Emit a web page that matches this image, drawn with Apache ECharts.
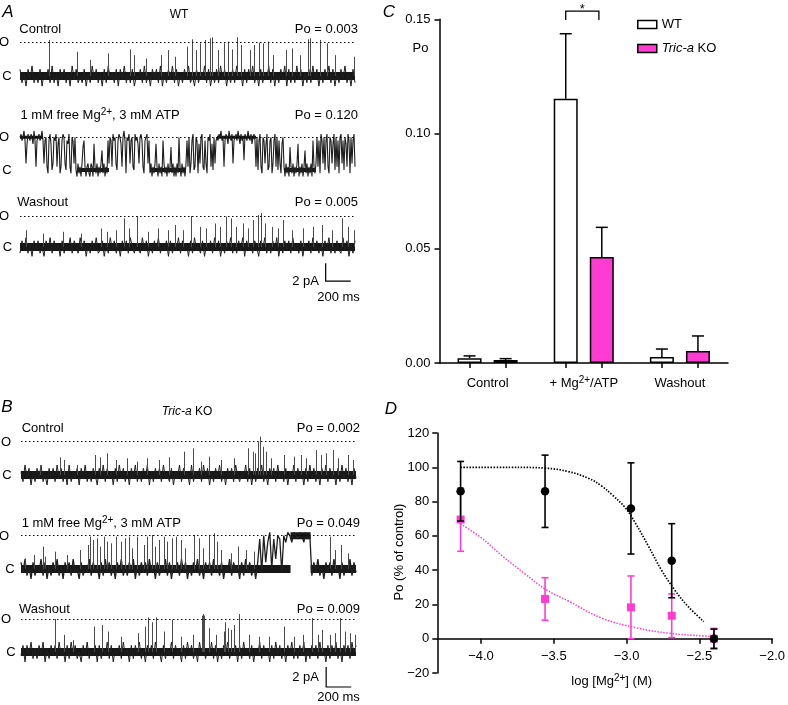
<!DOCTYPE html>
<html><head><meta charset="utf-8">
<script src="https://cdn.jsdelivr.net/npm/echarts@6/dist/echarts.min.js"></script>
<style>html,body{margin:0;padding:0;background:#fff}#c{width:788px;height:705px}</style>
</head><body><div id="c"></div>
<script>
const FONT = '"Liberation Sans", Arial, Helvetica, sans-serif';
const PINK = '#ff3cd2';
const SAMPLE_MS = 16;      // sampling of the quiet traces
const SAMPLE_MS_A2 = 8;    // sampling of the bursting WT trace
const TRACE_END = 2672;
const C_LEVEL = 0, O_LEVEL = 10;

// ---------- Panels A / B : single-channel traces (0 = closed, 10 = open) ----------
const noiseA1 = [2,-2,1,-3,2,-1,3,-2,0,-2,2,-3,1,-1,2,-2,3,-2,1,-3,
2,-1,2,-2,1,-3,3,-1,2,-2,0,-2,2,-3,1,-2,3,-1,2,-2,
1,-3,2,-2,3,-1,1,-2,2,-3,2,-1,3,-2,1,-2,2,-3,0,-1,
2,-2,3,-2,1,-3,2,-1,2,-2,3,-3,1,-2,2,-1,3,-2,2,-3,
1,-2,2,-1,3,-2,0,-3,2,-2,1,-1,3,-2,2,-3,1,-2,2,-2,
3,-1,2,-3,1,-2,2,-2,3,-1,1,-3,2,-2,2,-1,3,-2,1,-3,
2,-2,1,-1,3,-2,2,-3,1,-2,2,-1,3,-3,2,-2,1,-2,3,-1,
2,-3,1,-2,2,-2,3,-1,2,-3,1,-2,2,-1,3,-2,2,-3,1,-2,
2,-1,3,-2,1,-3,2,-2];
const spikesA1 = [[233,10.7],[454,7.2],[561,4.8],[705,6.7],[881,7.9],[913,6.2],[1006,5.2],[1121,6.2],[1179,7.7],[1233,5.7],[1334,8.7],[1371,10.9],[1406,7.7],[1433,9.7],[1473,10.7],[1513,11.2],[1532,11.5],[1579,7.7],[1627,9.7],[1659,10.2],[1691,7.9],[1734,11.5],[1761,9.2],[1833,7.7],[1867,9.2],[1905,9.9],[1939,9.7],[1979,10.2],[2019,6.2],[2118,7.7],[2166,8.2],[2233,6.2],[2294,10.9],[2313,11.2],[2393,10.7],[2446,9.7],[2513,6.2],[2665,5.7]];

const traceA2 = [10,11,9,10,12,9,2,8,11,10,9,11,10,8,12,9,1,9,10,11,9,10,12,9,
2,9,10,1,-1,9,11,8,0,2,10,9,11,1,8,10,-1,1,9,11,10,2,0,9,8,11,1,-1,10,9,2,10,0,
-2,2,-1,1,-2,2,7,9,1,-2,1,2,-1,-2,2,1,-2,8,1,-1,2,-2,1,-1,2,6,-1,2,-2,1,-1,9,2,
10,9,1,11,9,10,2,0,9,11,10,8,1,10,12,9,-1,10,9,11,2,9,10,1,0,11,9,10,8,2,10,11,9,1,-1,9,10,11,2,9,
-1,2,-2,1,-1,2,8,1,-2,2,-1,1,-2,9,2,-1,1,-2,2,-1,1,7,-1,2,-2,1,-2,2,-1,10,1,-2,2,-1,1,-2,2,
9,1,10,-1,2,9,11,0,1,10,9,-1,8,2,10,11,1,0,9,2,-1,10,9,11,1,8,0,10,2,9,
10,9,11,10,12,9,10,1,9,11,10,8,12,10,9,11,2,9,10,11,9,12,10,8,11,9,10,3,11,10,9,12,10,9,11,8,10,11,9,1,
10,0,9,11,1,-1,10,9,2,8,11,0,1,9,10,-1,2,9,11,1,10,0,9,2,-1,8,10,
1,-2,2,-1,1,-2,7,1,-1,2,-2,1,-1,2,8,-2,1,-1,2,-2,1,6,-1,2,-2,1,-1,2,-2,9,1,-1,2,
10,1,9,-1,11,9,2,10,0,9,11,1,-1,10,9,2,8,11,0,10,1,9,-1,10,11,2,9,0,10,8,1,11,9,-1,10,2,9,11,1];
const closedA2 = [[456, 712], [1040, 1328], [2112, 2368]];
const openA2 = [[0, 184], [1576, 1888]];

const noiseA3 = [-2,2,-1,3,-2,1,-3,2,-1,2,-2,0,-3,2,-1,3,-2,2,-1,1,
-3,2,-2,1,-1,3,-2,2,0,-2,3,-1,2,-3,1,-2,2,-1,3,-2,
-1,2,-3,1,-2,3,-1,2,-2,1,-3,2,-1,2,-2,3,0,-2,1,-1,
-2,3,-1,2,-3,1,-2,2,-1,3,-2,1,-1,2,-3,2,-2,1,-1,3,
-2,2,-1,1,-3,2,-2,3,-1,0,-2,2,-3,1,-1,2,-2,3,-1,2,
-3,1,-2,2,-1,3,-2,1,-2,2,-1,3,-3,2,-1,1,-2,2,0,-3,
2,-1,3,-2,1,-2,2,-1,3,-3,1,-2,2,-1,2,-2,3,-1,1,-2,
2,-3,1,-1,2,-2,3,-1,2,-2,1,-3,2,-1,3,-2,1,-2,2,-1,
-2,3,-1,2,-3,1,-2,2];
const spikesA3 = [[46,5.4],[187,4.3],[339,4.9],[486,4.3],[646,6.0],[694,4.9],[766,5.4],[833,9.2],[867,6.0],[934,10],[1019,4.9],[1099,6.0],[1179,5.4],[1233,7.1],[1299,5.4],[1361,10],[1433,6.5],[1486,6.0],[1553,7.6],[1593,6.5],[1646,9.8],[1686,9.2],[1726,6.5],[1779,7.6],[1819,6.0],[1859,8.7],[1899,10.3],[1921,11],[1953,7.6],[2006,6.5],[2059,6.0],[2099,8.7],[2166,5.4],[2259,6.0],[2339,6.5],[2406,7.1],[2486,5.4],[2566,9.2],[2619,6.5],[2665,5.4]];

const noiseB1 = [1,-2,3,-1,2,-3,1,-2,2,-1,3,-2,0,-3,2,-1,2,-2,3,-1,
2,-2,1,-3,3,-2,1,-1,2,-3,2,-1,3,-2,1,-2,2,0,-3,2,
-1,3,-2,2,-1,1,-3,2,-2,3,-1,2,-2,1,-3,2,-1,3,-2,1,
-2,2,-1,3,-3,1,-2,2,-1,2,-2,3,-1,0,-2,2,-3,1,-1,3,
-2,2,-1,1,-3,3,-2,1,-1,2,-2,3,-1,2,-3,1,-2,2,-1,3,
-2,1,-3,2,-1,2,-2,3,0,-2,1,-1,3,-2,2,-3,1,-2,2,-1,
3,-2,1,-3,2,-1,2,-2,3,-1,1,-2,2,-3,1,-1,3,-2,2,-1,
1,-3,2,-2,3,-1,2,-2,1,-3,2,-1,3,-2,2,-1,1,-3,2,-2,
3,-1,2,-2,1,-3,2,-1];
const spikesB1 = [[154,2.5],[309,5.3],[341,4.5],[448,3],[594,6],[634,5.3],[682,6.5],[754,4.5],[848,5],[928,4],[1008,5],[1101,4.5],[1181,5.3],[1301,7],[1368,8],[1434,4],[1501,5.5],[1594,4.5],[1701,5],[1808,8],[1848,7],[1866,6.5],[1888,10],[1909,11.5],[1928,8.5],[1954,7],[1994,5],[2101,6],[2181,5.5],[2234,6],[2274,5],[2354,7.5],[2394,6],[2434,6.5],[2488,7.5],[2528,5],[2608,6],[2648,4.5]];

const traceB2 = [2,-1,3,-2,1,-3,2,-2,1,-1,3,-2,2,-3,1,-2,2,-1,3,-2,
1,-3,2,-1,2,-2,3,-1,0,-3,2,-2,1,-1,3,-2,2,-1,1,-3,
2,-2,3,-1,2,-2,1,-3,2,-1,3,-2,1,-2,2,-1,3,-3,1,-2,
2,-1,2,-2,3,-1,1,-3,2,-2,1,-1,3,-2,2,-3,1,-1,2,-2,
3,-1,2,-3,1,-2,2,-1,3,-2,1,-3,2,-1,2,-2,3,-1,1,-2,
2,-3,1,-1,3,-2,2,-1,1,-3,2,-2,3,-1,2,-2,1,-3,2,
9,-1,10,2,8,11,0,9,3,10,9,-1,10,8,11,
10,8,11,10,9,11,10,8,11,9,10,
-2,2,-1,3,-2,1,-3,2,-1,2,-2,3,-1,1,-3,2,-2,1,-1,3,-2,2,-1];
const spikesB2 = [[34,3.2],[101,4.2],[176,6.7],[194,3.7],[274,5.2],[368,4.2],[474,5.7],[533,7.2],[554,9.7],[576,8.7],[608,9.2],[629,6.7],[661,9.7],[688,8.2],[714,7.7],[754,9.7],[794,8.2],[826,9.2],[861,9.7],[888,6.2],[928,9.7],[981,7.2],[1008,9.7],[1048,10.2],[1066,6.7],[1101,8.7],[1141,9.7],[1168,8.2],[1208,9.2],[1234,9.7],[1274,8.7],[1306,6.2],[1381,10.2],[1421,9.2],[1448,6.2],[1501,10.2],[1541,10.7],[1562,8.2],[1594,5.7],[1674,4.7],[1728,6.7],[1794,5.7],[1861,5.2],[2461,9.7],[2501,5.7],[2554,7.2],[2608,4.7]];
const closedB2 = [[0, 2150], [2310, TRACE_END]];
const openB2 = [[2150, 2310]];

const noiseB3 = [-1,2,-3,2,-1,3,-2,1,-2,2,-1,3,-3,1,-2,2,-1,2,-2,3,
-1,1,-3,2,-2,3,-1,2,-2,0,-3,2,-1,3,-2,1,-1,2,-3,2,
-2,1,-1,3,-2,2,-3,1,-1,2,-2,3,-1,1,-3,2,-2,2,-1,3,
-2,1,-3,2,-1,2,-2,3,-1,0,-3,2,-2,1,-1,3,-2,2,-1,1,
-3,2,-2,3,-1,2,-2,1,-3,3,-1,2,-2,1,-1,3,-2,2,-3,1,
-2,2,-1,3,-2,1,-1,2,-3,2,-2,3,-1,1,-2,2,-3,1,-1,3,
-2,2,-1,1,-3,2,-2,3,-1,2,-2,1,-3,2,-1,3,-2,1,-2,2,
-1,3,-3,1,-2,2,-1,2,-2,3,-1,1,-3,2,-2,2,-1,3,-2,1,
-3,2,-1,2,-2,3,-1,2];
const spikesB3 = [[274,10],[346,5.2],[416,3.6],[581,7.7],[648,8.2],[696,6.2],[794,4.6],[933,5.7],[986,7.7],[1016,10.5],[1048,9],[1074,10.5],[1141,6.2],[1208,9.8],[1274,4.6],[1368,5.2],[1444,11],[1448,11.5],[1452,11.5],[1456,11],[1501,7.2],[1554,5.2],[1616,6.2],[1629,9],[1648,7.2],[1674,6.7],[1701,8.2],[1741,11.5],[1821,5.2],[1901,4.6],[1981,4.6],[2101,7.7],[2181,4.6],[2248,5.2],[2320,10.3],[2368,5.2],[2400,6.7],[2461,5.2],[2501,5.7],[2541,10.3],[2581,6.2],[2621,5.7],[2661,5.2]];

const scaleBarMs = 200, scaleBarPA = 2;
const unitaryA = 3.45, unitaryB = 3.3; // pA of one opening

// ---------- Panel C ----------
const conditions = ['Control', '+ Mg{sup|2+}/ATP', 'Washout'];
const poWT  = [0.0021, 0.1153, 0.0026];
const semWT = [0.0010, 0.0284, 0.0035];
const poKO  = [0.0013, 0.0463, 0.0052];
const semKO = [0.0006, 0.0129, 0.0066];
const sigBracketY = [0.1497, 0.1536];

// ---------- Panel D ----------
const logMg   = [-4.14, -3.56, -2.97, -2.69, -2.40];
const dWT     = [86, 86, 76, 45.5, 0];
const dWTsem  = [17.4, 21.1, 26.6, 21.6, 5.6];
const dKO     = [69.5, 23.2, 18.3, 13.4, 0];
const dKOsem  = [18.5, 12.4, 18.3, 12.7, 6];
const fitWTx = [-4.14,-3.8,-3.56,-3.4,-3.26,-3.17,-3.10,-3.01,-2.94,-2.85,-2.76,-2.67,-2.58,-2.47];
const fitWTy = [100,100,99.5,97.5,93.5,89,84,76.5,67.5,54,40,28.5,19,10];
const fitKOx = [-4.14,-4.0,-3.85,-3.7,-3.56,-3.4,-3.17,-2.94,-2.71,-2.47,-2.40];
const fitKOy = [67,59,48,38,29,22,12,6.5,3.2,1.6,1.3];
const dXTicks = [-4.0, -3.5, -3.0, -2.5, -2.0];

// ---------------------------------------------------------------
const chart = echarts.init(document.getElementById('c'), null, {renderer: 'canvas'});
const grid = [], xAxis = [], yAxis = [], series = [];
const FULL = [[0, TRACE_END]];

const traces = [
  {g:{left:20, top:35.6, height:53.9}, values:noiseA1, dt:SAMPLE_MS, spikes:spikesA1, closed:FULL, open:[], lw:1, cw:8},
  {g:{left:20, top:130.8, height:52.3}, values:traceA2, dt:SAMPLE_MS_A2, spikes:[], closed:closedA2, open:openA2, lw:1.1, cw:4},
  {g:{left:20, top:209.8, height:49.6}, values:noiseA3, dt:SAMPLE_MS, spikes:spikesA3, closed:FULL, open:[], lw:1, cw:8, bar:{t:2438, y:-11, unitary:unitaryA}},
  {g:{left:21, top:435, height:53.3}, values:noiseB1, dt:SAMPLE_MS, spikes:spikesB1, closed:FULL, open:[], lw:1, cw:8},
  {g:{left:21, top:529, height:53.3}, values:traceB2, dt:SAMPLE_MS, spikes:spikesB2, closed:closedB2, open:openB2, lw:1.3, cw:8},
  {g:{left:21, top:612.4, height:52.8}, values:noiseB3, dt:SAMPLE_MS, spikes:spikesB3, closed:FULL, open:[], lw:1, cw:8, bar:{t:2434, y:-10.6, unitary:unitaryB}}
];

traces.forEach((tr, k) => {
  grid.push({left:tr.g.left, top:tr.g.top, width:335, height:tr.g.height});
  xAxis.push({gridIndex:k, type:'value', min:0, max:(tr.values.length - 1) * tr.dt, show:false});
  yAxis.push({gridIndex:k, type:'value', min:-4, max:12, show:false});
  tr.closed.forEach(seg => series.push({
    type:'line', xAxisIndex:k, yAxisIndex:k, silent:true, z:1, symbol:'none',
    data: seg.map(t => [t, C_LEVEL]), lineStyle:{color:'#161616', width:tr.cw}
  }));
  tr.open.forEach(seg => series.push({
    type:'line', xAxisIndex:k, yAxisIndex:k, silent:true, z:1, symbol:'none',
    data: seg.map(t => [t, O_LEVEL]), lineStyle:{color:'#161616', width:tr.cw - 1}
  }));
  series.push({
    type:'line', xAxisIndex:k, yAxisIndex:k, silent:true, z:2, symbol:'none',
    data: tr.values.map((v, i) => [i * tr.dt, v]),
    lineStyle:{color:'#1e1e1e', width:tr.lw},
    markLine:{silent:true, symbol:['none','none'], label:{show:false},
      lineStyle:{color:'#000', width:1.2, type:[1.5,2.5]}, data:[{yAxis:O_LEVEL}]}
  });
  if (tr.spikes.length) series.push({
    type:'custom', xAxisIndex:k, yAxisIndex:k, silent:true, z:3, clip:false,
    data: tr.spikes,
    renderItem: (p, api) => {
      const a = api.coord([api.value(0), C_LEVEL]);
      const b = api.coord([api.value(0), api.value(1)]);
      const x = Math.round(a[0]) + 0.5;
      return {type:'line', shape:{x1:x, y1:a[1], x2:x, y2:b[1]}, style:{stroke:'#4a4a4a', lineWidth:1}};
    }
  });
  if (tr.bar) series.push({
    type:'custom', xAxisIndex:k, yAxisIndex:k, silent:true, z:3, clip:false,
    data: [[tr.bar.t, tr.bar.y, scaleBarMs, scaleBarPA / tr.bar.unitary * O_LEVEL]],
    renderItem: (p, api) => {
      const t = api.value(0), y = api.value(1);
      const o = api.coord([t, y]);
      const up = api.coord([t, y + api.value(3)]);
      const rt = api.coord([t + api.value(2), y]);
      return {type:'polyline', shape:{points:[up, o, rt]}, style:{stroke:'#000', lineWidth:1.2, fill:null}};
    }
  });
});

// ---- Panel C ----
const CI = 6;
const BAR_OFF = 0.375;
grid.push({left:439.5, top:19.3, width:288.5, height:343.7});
const barCenters = [];
conditions.forEach((c, i) => { barCenters.push(2*i + 1 - BAR_OFF, 2*i + 1 + BAR_OFF); });
xAxis.push({
  gridIndex:CI, type:'value', min:0, max:6,
  axisLine:{show:true, onZero:false, lineStyle:{color:'#000', width:1.5}},
  axisTick:{show:true, customValues:barCenters, length:5, lineStyle:{color:'#000', width:1.5}},
  axisLabel:{show:true, customValues:conditions.map((c, i) => 2*i + 1), margin:12,
    formatter: v => conditions[Math.round((v - 1) / 2)],
    color:'#000', fontSize:13, fontFamily:FONT, lineHeight:16,
    rich:{sup:{fontSize:10, fontFamily:FONT, color:'#000', verticalAlign:'top', lineHeight:10}}},
  splitLine:{show:false}
});
yAxis.push({
  gridIndex:CI, type:'value', min:0, max:0.15, interval:0.05,
  axisLine:{show:true, onZero:false, lineStyle:{color:'#000', width:1.5}},
  axisTick:{show:true, length:5, lineStyle:{color:'#000', width:1.5}},
  axisLabel:{formatter: v => v.toFixed(2), margin:9, color:'#000', fontSize:13, fontFamily:FONT},
  splitLine:{show:false}
});
series.push({
  name:'WT', type:'bar', xAxisIndex:CI, yAxisIndex:CI, barWidth:24, barGap:'-100%',
  data: poWT.map((v, i) => [2*i + 1 - BAR_OFF, v]),
  itemStyle:{color:'#fff', borderColor:'#000', borderWidth:1.5}, z:2
});
series.push({
  name:'Tric-a KO', type:'bar', xAxisIndex:CI, yAxisIndex:CI, barWidth:24, barGap:'-100%',
  data: poKO.map((v, i) => [2*i + 1 + BAR_OFF, v]),
  itemStyle:{color:PINK, borderColor:'#000', borderWidth:1.5}, z:2
});
const upErr = (p, api) => {
  const x = api.value(0), m = api.value(1), s = api.value(2);
  const a = api.coord([x, m]), b = api.coord([x, m + s]);
  const st = {stroke:'#000', lineWidth:1.5};
  return {type:'group', children:[
    {type:'line', shape:{x1:a[0], y1:a[1], x2:a[0], y2:b[1]}, style:st},
    {type:'line', shape:{x1:a[0]-6, y1:b[1], x2:a[0]+6, y2:b[1]}, style:st}
  ]};
};
series.push({type:'custom', xAxisIndex:CI, yAxisIndex:CI, silent:true, z:3, clip:false,
  data: poWT.map((v, i) => [2*i + 1 - BAR_OFF, v, semWT[i]]), renderItem: upErr});
series.push({type:'custom', xAxisIndex:CI, yAxisIndex:CI, silent:true, z:3, clip:false,
  data: poKO.map((v, i) => [2*i + 1 + BAR_OFF, v, semKO[i]]), renderItem: upErr});
series.push({type:'custom', xAxisIndex:CI, yAxisIndex:CI, silent:true, z:3, clip:false,
  data: [[2*1 + 1 - BAR_OFF, 2*1 + 1 + BAR_OFF - 0.06, sigBracketY[0], sigBracketY[1]]],
  renderItem: (p, api) => {
    const l = api.coord([api.value(0), api.value(2)]), lt = api.coord([api.value(0), api.value(3)]);
    const r = api.coord([api.value(1), api.value(2)]), rt = api.coord([api.value(1), api.value(3)]);
    return {type:'group', children:[
      {type:'polyline', shape:{points:[l, lt, rt, r]}, style:{stroke:'#000', lineWidth:1.3, fill:null}},
      {type:'text', x:(l[0]+r[0])/2, y:lt[1]-2, style:{text:'*', fill:'#000', fontSize:13, fontFamily:FONT, align:'center', verticalAlign:'middle', textAlign:'center', textVerticalAlign:'middle'}}
    ]};
  }});

// ---- Panel D ----
const DI = 7;
const D_TOP = 433, D_H = 240, D_YMIN = -20, D_YMAX = 120;
grid.push({left:437.3, top:D_TOP, width:336, height:D_H});
const minusFmt = d => v => (v < 0 ? '\u2212' : '') + Math.abs(v).toFixed(d);
xAxis.push({
  gridIndex:DI, type:'value', min:-4.3, max:-2.0,
  // axis drawn at y = 0 of the value axis
  offset: -D_H * (0 - D_YMIN) / (D_YMAX - D_YMIN),
  axisLine:{show:true, onZero:false, lineStyle:{color:'#000', width:1.5}},
  axisTick:{show:true, customValues:dXTicks, length:5, lineStyle:{color:'#000', width:1.5}},
  axisLabel:{show:true, customValues:dXTicks, formatter:minusFmt(1), margin:11, color:'#000', fontSize:13, fontFamily:FONT},
  splitLine:{show:false}
});
yAxis.push({
  gridIndex:DI, type:'value', min:D_YMIN, max:D_YMAX, interval:20,
  axisLine:{show:true, onZero:false, lineStyle:{color:'#000', width:1.5}},
  axisTick:{show:true, length:5, lineStyle:{color:'#000', width:1.5}},
  axisLabel:{formatter:minusFmt(0), margin:8, color:'#000', fontSize:13, fontFamily:FONT},
  splitLine:{show:false}
});
series.push({type:'line', xAxisIndex:DI, yAxisIndex:DI, silent:true, smooth:0.4, symbol:'none', z:2,
  data: fitWTx.map((x, i) => [x, fitWTy[i]]), lineStyle:{color:'#000', width:1.7, type:[1.5,1.5]}});
series.push({type:'line', xAxisIndex:DI, yAxisIndex:DI, silent:true, smooth:0.4, symbol:'none', z:2,
  data: fitKOx.map((x, i) => [x, fitKOy[i]]), lineStyle:{color:PINK, width:1.5, type:[1.5,1.5]}});
const bothErr = color => (p, api) => {
  const x = api.value(0), m = api.value(1), s = api.value(2);
  const t = api.coord([x, m + s]), b = api.coord([x, m - s]);
  const st = {stroke:color, lineWidth:1.6};
  return {type:'group', children:[
    {type:'line', shape:{x1:t[0], y1:t[1], x2:b[0], y2:b[1]}, style:st},
    {type:'line', shape:{x1:t[0]-3.5, y1:t[1], x2:t[0]+3.5, y2:t[1]}, style:st},
    {type:'line', shape:{x1:b[0]-3.5, y1:b[1], x2:b[0]+3.5, y2:b[1]}, style:st}
  ]};
};
series.push({type:'custom', xAxisIndex:DI, yAxisIndex:DI, silent:true, z:3, clip:false,
  data: logMg.map((x, i) => [x, dKO[i], dKOsem[i]]), renderItem: bothErr(PINK)});
series.push({type:'scatter', xAxisIndex:DI, yAxisIndex:DI, silent:true, z:4, symbol:'rect', symbolSize:8,
  data: logMg.map((x, i) => [x, dKO[i]]), itemStyle:{color:PINK, opacity:1}});
series.push({type:'custom', xAxisIndex:DI, yAxisIndex:DI, silent:true, z:5, clip:false,
  data: logMg.map((x, i) => [x, dWT[i], dWTsem[i]]), renderItem: bothErr('#000')});
series.push({type:'scatter', xAxisIndex:DI, yAxisIndex:DI, silent:true, z:6, symbol:'circle', symbolSize:8.5,
  data: logMg.map((x, i) => [x, dWT[i]]), itemStyle:{color:'#000', opacity:1}});

// ---- Text ----
const RICH = {
  sup:{fontSize:10, fontFamily:FONT, fill:'#000', verticalAlign:'top', lineHeight:10},
  i:{fontSize:12, fontFamily:FONT, fontStyle:'italic', fill:'#000'}
};
function txt(x, y, text, align, extra) {
  return {type:'text', x:x, y:y, silent:true, style:Object.assign({
    text:text, fill:'#000', fontSize:13, fontFamily:FONT, lineHeight:15, rich:RICH,
    align:align || 'left', verticalAlign:'middle', textAlign:align || 'left', textVerticalAlign:'middle'
  }, extra || {})};
}
const letter = (x, y, t) => txt(x, y, t, 'center', {fontSize:17, fontStyle:'italic'});
const graphics = [
  letter(8, 12, 'A'), letter(7, 407, 'B'), letter(389, 12, 'C'), letter(391, 409, 'D'),
  txt(179, 15, 'WT', 'center', {fontSize:12}),
  txt(187, 412, '{i|Tric-a} KO', 'center', {fontSize:12}),
  txt(19.3, 29, 'Control'), txt(358, 29, 'Po = 0.003', 'right'),
  txt(20.5, 115, '1 mM free Mg{sup|2+}, 3 mM ATP'), txt(358, 115, 'Po = 0.120', 'right'),
  txt(17.3, 202, 'Washout'), txt(358, 202, 'Po = 0.005', 'right'),
  txt(4, 42, 'O', 'center'), txt(7, 76, 'C', 'center'),
  txt(4, 137, 'O', 'center'), txt(7, 170, 'C', 'center'),
  txt(4, 216, 'O', 'center'), txt(7.5, 247, 'C', 'center'),
  txt(319, 281, '2 pA', 'right'), txt(338.5, 297, '200 ms', 'center'),
  txt(21.7, 428, 'Control'), txt(360, 428, 'Po = 0.002', 'right'),
  txt(21.7, 523, '1 mM free Mg{sup|2+}, 3 mM ATP'), txt(360, 523, 'Po = 0.049', 'right'),
  txt(19, 609, 'Washout'), txt(360, 609, 'Po = 0.009', 'right'),
  txt(6, 442, 'O', 'center'), txt(7, 475, 'C', 'center'),
  txt(4, 536, 'O', 'center'), txt(10, 569, 'C', 'center'),
  txt(6, 619, 'O', 'center'), txt(11, 652, 'C', 'center'),
  txt(319, 677, '2 pA', 'right'), txt(338.5, 697, '200 ms', 'center'),
  txt(420.5, 48, 'Po', 'center'),
  txt(611.7, 681, 'log [Mg{sup|2+}] (M)', 'center'),
  Object.assign(txt(399, 552, 'Po (% of control)', 'center'), {rotation: Math.PI / 2})
];

chart.setOption({
  animation:false,
  backgroundColor:'#fff',
  textStyle:{fontFamily:FONT},
  grid, xAxis, yAxis, series,
  legend:{
    left:632, top:13, orient:'vertical', itemWidth:19, itemHeight:8, itemGap:11, selectedMode:false,
    formatter: n => n === 'Tric-a KO' ? '{i13|Tric-a} KO' : n,
    textStyle:{color:'#000', fontSize:13, fontFamily:FONT,
      rich:{i13:{fontSize:13, fontFamily:FONT, fontStyle:'italic', color:'#000'}}},
    data:[
      {name:'WT', icon:'rect', itemStyle:{color:'#fff', borderColor:'#000', borderWidth:1.5}},
      {name:'Tric-a KO', icon:'rect', itemStyle:{color:PINK, borderColor:'#000', borderWidth:1.5}}
    ]
  },
  graphic: graphics
});
</script></body></html>
